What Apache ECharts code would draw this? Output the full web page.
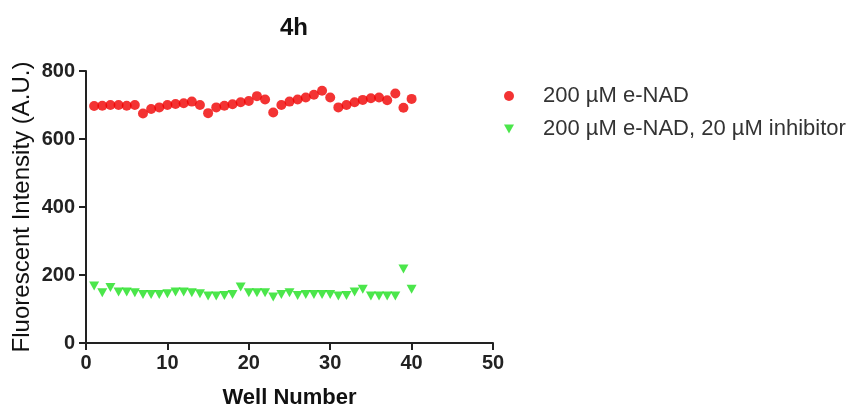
<!DOCTYPE html>
<html><head><meta charset="utf-8">
<script src="https://cdn.jsdelivr.net/npm/echarts@6/dist/echarts.min.js"></script>
<style>html,body{margin:0;padding:0;background:#fff}#c{width:853px;height:407px}</style>
</head><body><div id="c"></div>
<script>
const wells = [1,2,3,4,5,6,7,8,9,10,11,12,13,14,15,16,17,18,19,20,21,22,23,24,25,26,27,28,29,30,31,32,33,34,35,36,37,38,39,40];
const enad = [697,698,700,700,698,700,675,688,693,700,703,705,710,700,676,693,698,702,708,712,726,716,678,700,710,716,722,730,742,722,693,700,708,715,720,722,714,734,692,718];
const inhib = [168,148,163,150,150,148,143,143,143,145,150,150,148,145,138,138,140,143,165,148,148,148,135,143,148,140,143,143,143,143,138,140,150,158,138,138,138,138,218,158];
const xTicks = [0,10,20,30,40,50];
const yTicks = [0,200,400,600,800];
const names = ['200 \u00b5M e-NAD','200 \u00b5M e-NAD, 20 \u00b5M inhibitor'];

const tri = 'path://M0,0 L10,0 L5,9 Z';
const font = 'Liberation Sans';
const chart = echarts.init(document.getElementById('c'));
chart.setOption({
  animation:false,
  textStyle:{fontFamily:font},
  title:{text:'4h',left:289,top:11,textAlign:'center',textStyle:{fontFamily:font,fontSize:24,fontWeight:'bold',color:'#111'}},
  legend:{orient:'vertical',left:499,top:80,itemWidth:10,itemHeight:10,itemGap:11,
    textStyle:{fontFamily:font,fontSize:22,color:'#333',padding:[0,0,0,24]},
    data:[{name:names[0],icon:'circle'},{name:names[1],icon:tri}]},
  grid:{left:86,right:360,top:71,bottom:64,containLabel:false,outerBoundsMode:'none'},
  xAxis:{type:'value',min:0,max:50,interval:10,name:'Well Number',nameLocation:'middle',nameGap:44,
    nameTextStyle:{fontFamily:font,fontSize:22,fontWeight:'bold',color:'#111'},
    axisLine:{lineStyle:{color:'#222',width:2}},axisTick:{length:7,lineStyle:{color:'#222',width:2}},
    axisLabel:{fontFamily:font,fontSize:20,fontWeight:'bold',color:'#222',margin:10,
      formatter:v=>xTicks.includes(v)?String(v):''},
    splitLine:{show:false}},
  yAxis:{type:'value',min:0,max:800,interval:200,name:'Fluorescent Intensity (A.U.)',nameLocation:'middle',nameGap:52,
    nameTextStyle:{fontFamily:font,fontSize:24,color:'#111'},
    axisLine:{show:true,lineStyle:{color:'#222',width:2}},axisTick:{show:true,length:7,lineStyle:{color:'#222',width:2}},
    axisLabel:{fontFamily:font,fontSize:20,fontWeight:'bold',color:'#222',margin:11,
      formatter:v=>yTicks.includes(v)?String(v):''},
    splitLine:{show:false}},
  series:[
    {name:names[0],type:'scatter',symbol:'circle',symbolSize:10,itemStyle:{color:'#f00000'},
      data:wells.map((w,i)=>[w,enad[i]])},
    {name:names[1],type:'scatter',symbol:tri,symbolSize:[10,9],itemStyle:{color:'#1ee01e'},
      data:wells.map((w,i)=>[w,inhib[i]])}
  ]
});
</script></body></html>
